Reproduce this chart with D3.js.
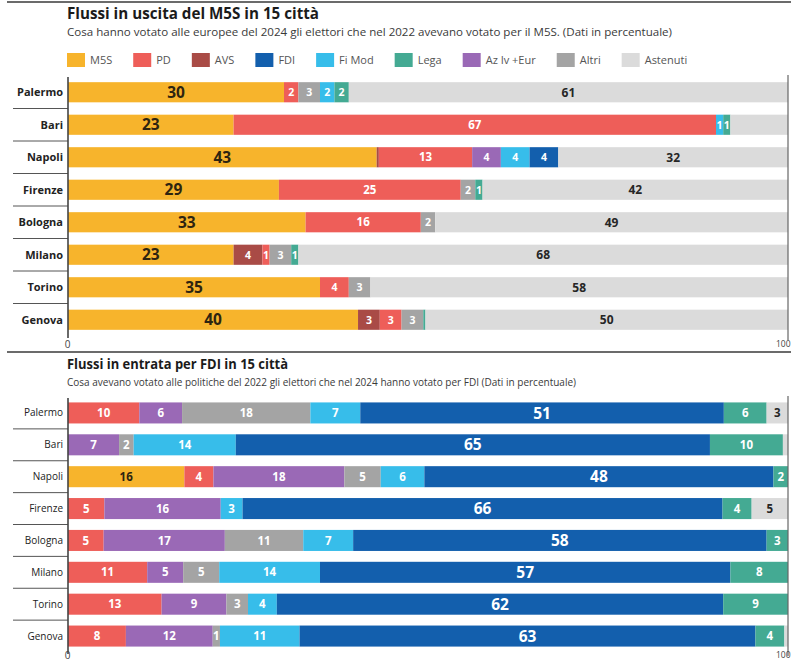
<!DOCTYPE html>
<html><head><meta charset="utf-8">
<script src="https://cdn.jsdelivr.net/npm/d3@7"></script>
<style>body{margin:0;background:#fff}svg{display:block}text{font-family:"Open Sans",sans-serif}</style>
</head><body><svg id="c" width="800" height="666"></svg>
<script>
const cities = ["Palermo","Bari","Napoli","Firenze","Bologna","Milano","Torino","Genova"];
const ticks = [0, 100];

// Chart 1: Flussi in uscita del M5S
const outM5S      = [30, 23, 43, 29, 33, 23, 35, 40];
const outAVS      = [0, 0, 0.3, 0, 0, 4, 0, 3];
const outPD       = [2, 67, 13, 25, 16, 1, 4, 3];
const outAzIv     = [0, 0, 4, 0, 0, 0, 0, 0];
const outAltri    = [3, 0, 0, 2, 2, 3, 3, 3];
const outFiMod    = [2, 1, 4, 0, 0, 0, 0, 0];
const outFDI      = [0, 0, 4, 0, 0, 0, 0, 0];
const outLega     = [2, 1, 0, 1, 0, 1, 0, 0.3];
const outAstenuti = [61, 8, 32, 42, 49, 68, 58, 50];
const outHiddenLabels = [["Bari", "Astenuti"]];

// Chart 2: Flussi in entrata per FDI
const inM5S      = [0, 0, 16, 0, 0, 0, 0, 0];
const inPD       = [10, 0, 4, 5, 5, 11, 13, 8];
const inAzIv     = [6, 7, 18, 16, 17, 5, 9, 12];
const inAltri    = [18, 2, 5, 0, 11, 5, 3, 1];
const inFiMod    = [7, 14, 6, 3, 7, 14, 4, 11];
const inFDI      = [51, 65, 48, 66, 58, 57, 62, 63];
const inLega     = [6, 10, 2, 4, 3, 8, 9, 4];
const inAstenuti = [3, 0.7, 0, 5, 0, 0, 0, 0.5];

const legendKeys = ["M5S","PD","AVS","FDI","Fi Mod","Lega","Az Iv +Eur","Altri","Astenuti"];
const colors = {
  "M5S":"#F7B42C","PD":"#EE5E59","AVS":"#A94B46","FDI":"#135FAD","Fi Mod":"#37BDEA",
  "Lega":"#44AA93","Az Iv +Eur":"#9A69B6","Altri":"#A4A4A4","Astenuti":"#DBDBDB"
};

const outSeries = {"M5S":outM5S,"AVS":outAVS,"PD":outPD,"Az Iv +Eur":outAzIv,"Altri":outAltri,
  "Fi Mod":outFiMod,"FDI":outFDI,"Lega":outLega,"Astenuti":outAstenuti};
const inSeries = {"M5S":inM5S,"PD":inPD,"Az Iv +Eur":inAzIv,"Altri":inAltri,"Fi Mod":inFiMod,
  "FDI":inFDI,"Lega":inLega,"Astenuti":inAstenuti};

const svg = d3.select("#c");

// horizontal rules
[2, 352].forEach(yy => svg.append("line").attr("x1",7).attr("x2",791).attr("y1",yy).attr("y2",yy)
  .attr("stroke","#6b6b6b").attr("stroke-width",2));

function fitText(sel, w){ sel.attr("textLength", w).attr("lengthAdjust","spacingAndGlyphs"); }

// titles
fitText(svg.append("text").attr("x",67).attr("y",19).attr("font-family","Roboto").attr("font-weight",700)
  .attr("font-size",16.5).attr("fill","#1b1b1b").text("Flussi in uscita del M5S in 15 città"), 252);
fitText(svg.append("text").attr("x",67).attr("y",36).attr("font-size",11).attr("fill","#3a3a3a")
  .text("Cosa hanno votato alle europee del 2024 gli elettori che nel 2022 avevano votato per il M5S. (Dati in percentuale)"), 605);
fitText(svg.append("text").attr("x",67).attr("y",369).attr("font-family","Roboto").attr("font-weight",700)
  .attr("font-size",13.5).attr("fill","#1b1b1b").text("Flussi in entrata per FDI in 15 città"), 221);
fitText(svg.append("text").attr("x",67).attr("y",386).attr("font-size",10).attr("fill","#3a3a3a")
  .text("Cosa avevano votato alle politiche del 2022 gli elettori che nel 2024 hanno votato per FDI (Dati in percentuale)"), 509);

// legend
let lx = 67;
const lg = svg.append("g");
legendKeys.forEach(k => {
  lg.append("rect").attr("x",lx).attr("y",53).attr("width",18).attr("height",14).attr("fill",colors[k]);
  const t = lg.append("text").attr("x",lx+23).attr("y",64).attr("font-size",11).attr("fill","#555")
    .attr("font-family","Roboto").text(k);
  lx += 23 + t.node().getComputedTextLength() + 21;
});

function drawChart(cfg){
  const keys = Object.keys(cfg.series);
  const rows = cities.map((c,i) => { const r = {city:c}; keys.forEach(k => r[k] = cfg.series[k][i]); return r; });
  const x = d3.scaleLinear().domain([0,100]).range([68,788]);
  const y = d3.scaleBand().domain(cities).range(cfg.yRange).paddingInner(cfg.padIn).paddingOuter(cfg.padIn/2);
  const stacked = d3.stack().keys(keys).offset(d3.stackOffsetExpand)(rows);
  const g = svg.append("g");

  // row separators
  cities.slice(1).forEach(c => {
    const yy = y(c) - y.step()*y.paddingInner()/2;
    g.append("line").attr("x1",13).attr("x2",68).attr("y1",yy).attr("y2",yy).attr("stroke","#555").attr("stroke-width",1);
  });

  // bars
  const layer = g.selectAll("g.layer").data(stacked).join("g").attr("fill", d => colors[d.key]);
  layer.selectAll("rect").data(d => d.map(v => Object.assign(v, {key:d.key}))).join("rect")
    .attr("x", d => x(d[0]*100)).attr("width", d => Math.max(0, x(d[1]*100) - x(d[0]*100)))
    .attr("y", d => y(d.data.city)).attr("height", y.bandwidth());

  // labels
  const hidden = cfg.hidden || [];
  const labels = [];
  stacked.forEach(s => s.forEach(d => {
    const v = d.data[s.key];
    if (v >= 1 && !hidden.some(h => h[0] === d.data.city && h[1] === s.key))
      labels.push({key:s.key, v, cx:(x(d[0]*100)+x(d[1]*100))/2, cy:y(d.data.city)+y.bandwidth()/2});
  }));
  g.selectAll("text.val").data(labels).join("text").attr("class","val")
    .attr("x", d => d.cx).attr("y", d => d.cy).attr("dy","0.36em").attr("text-anchor","middle")
    .attr("font-weight",700)
    .attr("font-size", d => cfg.fontSize(d))
    .attr("fill", d => (d.key === "M5S") ? "#2e2410" : (d.key === "Astenuti" ? "#262626" : "#fff"))
    .text(d => d.v);

  // city labels
  g.selectAll("text.city").data(cities).join("text").attr("class","city")
    .attr("x",63).attr("y", c => y(c)+y.bandwidth()/2).attr("dy","0.35em").attr("text-anchor","end")
    .attr("font-size",cfg.cityFont).attr("font-weight",cfg.cityWeight).attr("fill","#222").text(c => c);

  // left axis and right boundary
  const r0 = cfg.yRange[0], r1 = cfg.yRange[1];
  g.append("line").attr("x1",68).attr("x2",68).attr("y1",r0+1).attr("y2",r1+2).attr("stroke","#444").attr("stroke-width",1.6);
  g.append("line").attr("x1",788).attr("x2",788).attr("y1",r0-1).attr("y2",r1+4).attr("stroke","#666").attr("stroke-width",1.2);

  // ticks
  const ax = g.append("g").attr("transform",`translate(0,${cfg.tickY})`)
    .call(d3.axisBottom(x).tickValues(ticks).tickSize(0).tickPadding(0));
  ax.select(".domain").remove();
  ax.selectAll("text").attr("font-size", d => d === 0 ? 10 : 8.5).attr("fill","#444")
    .attr("font-family","Open Sans")
    .attr("text-anchor", d => d === 0 ? "middle" : "end")
    .attr("dx", d => d === 0 ? -1 : 2);
}

drawChart({
  series: outSeries, hidden: outHiddenLabels, yRange:[76,336], padIn:0.38, tickY:341,
  cityFont:11, cityWeight:700,
  fontSize: d => d.key === "M5S" ? 15.5 : (d.key === "Astenuti" ? 12 : (d.v >= 10 ? 11.5 : 10.5))
});
drawChart({
  series: inSeries, yRange:[397,652], padIn:0.34, tickY:652,
  cityFont:10, cityWeight:500,
  fontSize: d => d.key === "FDI" ? 15.5 : 11.5
});
</script></body></html>
